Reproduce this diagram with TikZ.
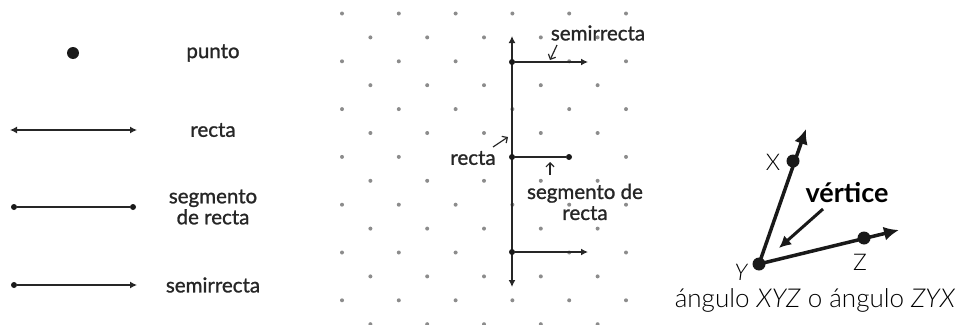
\documentclass[tikz,border=0pt]{standalone}
\usepackage{fontspec}
\setmainfont{Lato}
\newfontfamily\lightfont{Lato Light}
\newfontfamily\medfont[FakeBold=1.2]{Lato}
\usetikzlibrary{arrows.meta,calc}
\begin{document}
\begin{tikzpicture}[x=1pt,y=-1pt,
  lbl/.style={font=\medfont\fontsize{20.5}{23}\selectfont, text=black!85, inner sep=0pt, align=center},
  griddot/.style={circle, fill=black!45, inner sep=0pt, minimum size=4pt},
  bigdot/.style={circle, fill=black!90, inner sep=0pt, minimum size=12pt},
  smalldot/.style={circle, fill=black!90, inner sep=0pt, minimum size=6pt},
  angdot/.style={circle, fill=black!90, inner sep=0pt, minimum size=13pt},
  thinln/.style={line width=1.3pt, draw=black!85},
  midln/.style={line width=1.6pt, draw=black!85},
  angln/.style={line width=3.5pt, draw=black!90},
  tipS/.style={-{Latex[length=7pt,width=7pt]}},
  tipSS/.style={{Latex[length=7pt,width=7pt]}-{Latex[length=7pt,width=7pt]}},
  pointer/.style={line width=1.2pt, draw=black!85, -{Straight Barb[length=4pt,width=8pt]}},
  tipB/.style={-{Latex[length=15pt,width=14pt]}}
]
\useasboundingbox (0,0) rectangle (963,324);

% ---------- left panel ----------
\node[bigdot] (p) at (73,53) {};
\node[lbl] (lp) at (213,53) {punto};

\coordinate (r1) at (10,130);
\coordinate (r2) at (137,130);
\draw[thinln,tipSS] (r1) -- (r2);
\node[lbl] (lr) at (213,130) {recta};

\node[smalldot] (s1) at (14,207) {};
\node[smalldot] (s2) at (133,207) {};
\draw[thinln] (s1) -- (s2);
\node[lbl] (ls) at (213,207) {segmento\\[-2pt]de recta};

\node[smalldot] (h1) at (14,285) {};
\coordinate (h2) at (137,285);
\draw[thinln,tipS] (h1) -- (h2);
\node[lbl] (lh) at (213,285) {semirrecta};

% ---------- dot grid ----------
\foreach \k in {0,...,6} {
  \foreach \x in {342,398.8,455.6,512.4,569.2,626} {
    \node[griddot] at (\x,13.5+47.8*\k) {};
  }
  \foreach \x in {370.4,427.2,484,540.8,597.6} {
    \node[griddot] at (\x,37.4+47.8*\k) {};
  }
}

% ---------- middle panel ----------
\coordinate (vt) at (512,36);
\coordinate (vb) at (512,287);
\draw[midln,tipSS] (vb) -- (vt);
\node[smalldot] (m1) at (512,62) {};
\node[smalldot] (m2) at (512,157) {};
\node[smalldot] (m3) at (512,252) {};
\coordinate (m1e) at (588,62);
\node[smalldot] (m2e) at (569,157) {};
\coordinate (m3e) at (588,252);
\draw[midln,tipS] (m1) -- (m1e);
\draw[midln] (m2) -- (m2e);
\draw[midln,tipS] (m3) -- (m3e);

\node[lbl] (lsm) at (598,33) {semirrecta};
\coordinate (a1s) at (557,45);
\coordinate (a1e) at (550,60);
\draw[pointer] (a1s) -- (a1e);

\node[lbl, fill=white, inner sep=1pt] (lrm) at (473,158) {recta};
\coordinate (a2s) at (493,147);
\coordinate (a2e) at (508,137);
\draw[pointer] (a2s) -- (a2e);

\node[lbl] (lsgm) at (585,202) {segmento de\\[-2pt]recta};
\coordinate (a3s) at (550,175);
\coordinate (a3e) at (550,162);
\draw[pointer] (a3s) -- (a3e);

% ---------- angle ----------
\coordinate (Y) at (759,264);
\coordinate (X) at (793,161);
\coordinate (Z) at (864,238);
\coordinate (XT) at (806,129);
\coordinate (ZT) at (899,230);
\draw[angln,tipB] (Y) -- (XT);
\draw[angln,tipB] (Y) -- (ZT);
\node[angdot] (Yd) at (Y) {};
\node[angdot] (Xd) at (X) {};
\node[angdot] (Zd) at (Z) {};

\node[font=\lightfont\fontsize{23}{26}\selectfont, inner sep=0pt] (lX) at (773,162) {X};
\node[font=\lightfont\itshape\fontsize{23}{26}\selectfont, inner sep=0pt] (lY) at (741,272) {Y};
\node[font=\lightfont\fontsize{23}{26}\selectfont, inner sep=0pt] (lZ) at (860,262) {Z};
\node[font=\bfseries\fontsize{27}{30}\selectfont, inner sep=0pt] (lv) at (847,193) {vértice};
\coordinate (vs) at (823,209);
\coordinate (ve) at (779,248);
\draw[line width=3pt, draw=black!90, -{Latex[length=12pt,width=12pt]}] (vs) -- (ve);

\node[font=\lightfont\fontsize{26}{28}\selectfont, inner sep=0pt] (cap) at (815,300) {ángulo \textit{XYZ} o ángulo \textit{ZYX}};
\end{tikzpicture}
\end{document}
